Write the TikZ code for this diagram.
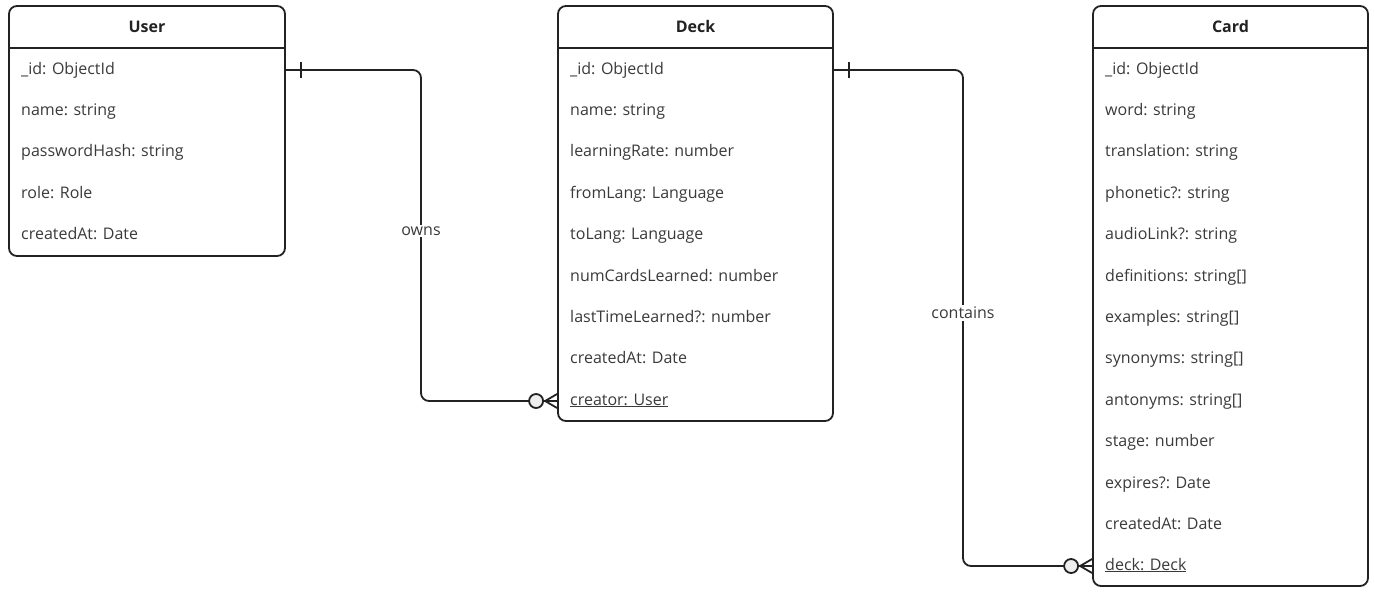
\documentclass[tikz,border=0pt]{standalone}
\usepackage{fontspec}
\setmainfont{Open Sans}
\definecolor{ink}{HTML}{222222}
\definecolor{txt}{HTML}{3A3A3A}
\definecolor{dot}{HTML}{EEEEEE}
\begin{document}
\begin{tikzpicture}[x=1pt, y=-1pt, every node/.style={font=\fontsize{16}{18}\selectfont, text=txt}]
    \tikzset{
        table/.style={draw=ink, line width=1.8pt, rounded corners=8pt, minimum width=275pt},
        title/.style={font=\fontsize{16}{18}\selectfont\bfseries, text=ink, text height=12pt, text depth=4pt},
        row/.style={anchor=west, inner sep=0pt, text height=12pt, text depth=4pt},
        rel/.style={draw=ink, line width=1.8pt},
        lbl/.style={fill=white, inner sep=2pt},
        circ/.style={circle, draw=ink, line width=1.8pt, fill=dot, minimum size=14pt, inner sep=0pt}
    }
    \useasboundingbox (0,0) rectangle (1375,595);

    % User table
    \node[table, minimum width=276pt, minimum height=250pt] (user) at (147,131) {};
    \node[title] (user-t) at (147,28) {User};
    \draw[ink, line width=1.8pt] (user.west |- 0,48) -- (user.east |- 0,48);
    \foreach \t [count=\i] in {\_id: ObjectId, name: string, passwordHash: string, role: Role, createdAt: Date}
        \node[row] (user-\i) at (21,{70+41.42*(\i-1)}) {\t};

    % Deck table
    \node[table, minimum height=415pt] (deck) at (695.5,213.5) {};
    \node[title] (deck-t) at (695.5,28) {Deck};
    \draw[ink, line width=1.8pt] (deck.west |- 0,48) -- (deck.east |- 0,48);
    \foreach \t [count=\i] in {\_id: ObjectId, name: string, learningRate: number, fromLang: Language, toLang: Language, numCardsLearned: number, lastTimeLearned?: number, createdAt: Date}
        \node[row] (deck-\i) at (570,{70+41.42*(\i-1)}) {\t};
    \node[row] (deck-9) at (570,401) {\underline{creator: User}};

    % Card table
    \node[table, minimum height=580pt] (card) at (1230.5,296) {};
    \node[title] (card-t) at (1230.5,28) {Card};
    \draw[ink, line width=1.8pt] (card.west |- 0,48) -- (card.east |- 0,48);
    \foreach \t [count=\i] in {\_id: ObjectId, word: string, translation: string, phonetic?: string, audioLink?: string, definitions: string[], examples: string[], synonyms: string[], antonyms: string[], stage: number, expires?: Date, createdAt: Date}
        \node[row] (card-\i) at (1105,{70+41.42*(\i-1)}) {\t};
    \node[row] (card-13) at (1105,566) {\underline{deck: Deck}};

    % owns
    \coordinate (bend1) at (421,0);
    \draw[rel, rounded corners=8pt] (user.east |- user-1) -| (bend1 |- deck-9) -- (deck.west |- deck-9);
    \draw[rel] ([xshift=15pt]user.east |- user-1) ++(0,-8) -- ++(0,16);
    \draw[rel] ([xshift=-12pt]deck.west |- deck-9) -- ++(12,-7);
    \draw[rel] ([xshift=-12pt]deck.west |- deck-9) -- ++(12,7);
    \node[circ] (c1) at ([xshift=-21pt]deck.west |- deck-9) {};
    \node[lbl] (owns) at (421,231) {owns};

    % contains
    \coordinate (bend2) at (963,0);
    \draw[rel, rounded corners=8pt] (deck.east |- deck-1) -| (bend2 |- card-13) -- (card.west |- card-13);
    \draw[rel] ([xshift=15pt]deck.east |- deck-1) ++(0,-8) -- ++(0,16);
    \draw[rel] ([xshift=-12pt]card.west |- card-13) -- ++(12,-7);
    \draw[rel] ([xshift=-12pt]card.west |- card-13) -- ++(12,7);
    \node[circ] (c2) at ([xshift=-21pt]card.west |- card-13) {};
    \node[lbl] (contains) at (963,313) {contains};
\end{tikzpicture}
\end{document}
